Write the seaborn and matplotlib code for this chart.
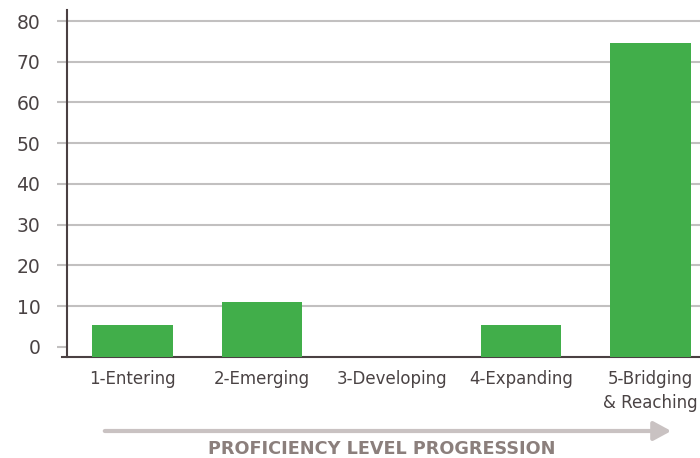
import numpy as np
import pandas as pd
import matplotlib
matplotlib.use("Agg")
import matplotlib.pyplot as plt
import seaborn as sns

# Chart data (percent of students per proficiency level)
levels = ["1-Entering", "2-Emerging", "3-Developing", "4-Expanding", "5-Bridging\n& Reaching"]
percent = np.array([5.5, 11.0, 0.0, 5.5, 74.5])
y_ticks = [0, 10, 20, 30, 40, 50, 60, 70, 80]

# axis floor sits a little below the 0 tick, as in the original design
y_floor = -2.46
y_top = 82.7

sns.set_theme(style="white")
plt.rcParams["font.family"] = ["DejaVu Sans"]

text_col = "#4a4344"
grid_col = "#c2c0c0"
spine_col = "#4a4042"
bar_col = "#41ae4a"

fig = plt.figure(figsize=(7, 4.58), dpi=100)
ax = fig.add_axes([67 / 700, 1 - 357 / 458, 1 - 67 / 700, (357 - 10) / 458])

data = pd.DataFrame({
    "level": levels,
    "height": np.where(percent > 0, percent - y_floor, 0),
})

sns.barplot(data=data, x="level", y="height", color=bar_col, saturation=1,
            width=0.625, bottom=y_floor, linewidth=0, ax=ax, zorder=3)

ax.set_xlim(-0.506, 4.382)
ax.set_ylim(y_floor, y_top)
ax.set_yticks(y_ticks)
ax.set_yticklabels([str(t) for t in y_ticks])
ax.set_xlabel("")
ax.set_ylabel("")

ax.grid(axis="y", color=grid_col, linewidth=1.5, zorder=0)
ax.set_axisbelow(True)
ax.get_ygridlines()[0].set_visible(False)
ax.yaxis.get_major_ticks()[0].tick1line.set_visible(False)

ax.tick_params(axis="y", left=True, length=7.2, width=1.5, color=grid_col,
               pad=12, labelsize=13.5, labelcolor=text_col)
ax.tick_params(axis="x", bottom=False, length=0, pad=9, labelsize=12,
               labelcolor=text_col)
for lab in ax.get_xticklabels():
    lab.set_linespacing(1.45)

for side in ["top", "right"]:
    ax.spines[side].set_visible(False)
for side in ["left", "bottom"]:
    ax.spines[side].set_color(spine_col)
    ax.spines[side].set_linewidth(1.5)
ax.spines["bottom"].set_bounds(-0.545, 4.382)

# progression arrow and caption
fig.patches.append(matplotlib.patches.FancyArrowPatch(
    (102 / 700, 1 - 431 / 458), (674 / 700, 1 - 431 / 458),
    transform=fig.transFigure, arrowstyle="-|>,head_length=0.7,head_width=0.38",
    mutation_scale=15, linewidth=3, color="#c9c2c2"))
fig.text(382 / 700, 1 - 449 / 458, "PROFICIENCY LEVEL PROGRESSION",
         ha="center", va="center", fontsize=12.7, fontweight="bold", color="#8b7f7c")

fig.savefig("out.png", dpi=100)
